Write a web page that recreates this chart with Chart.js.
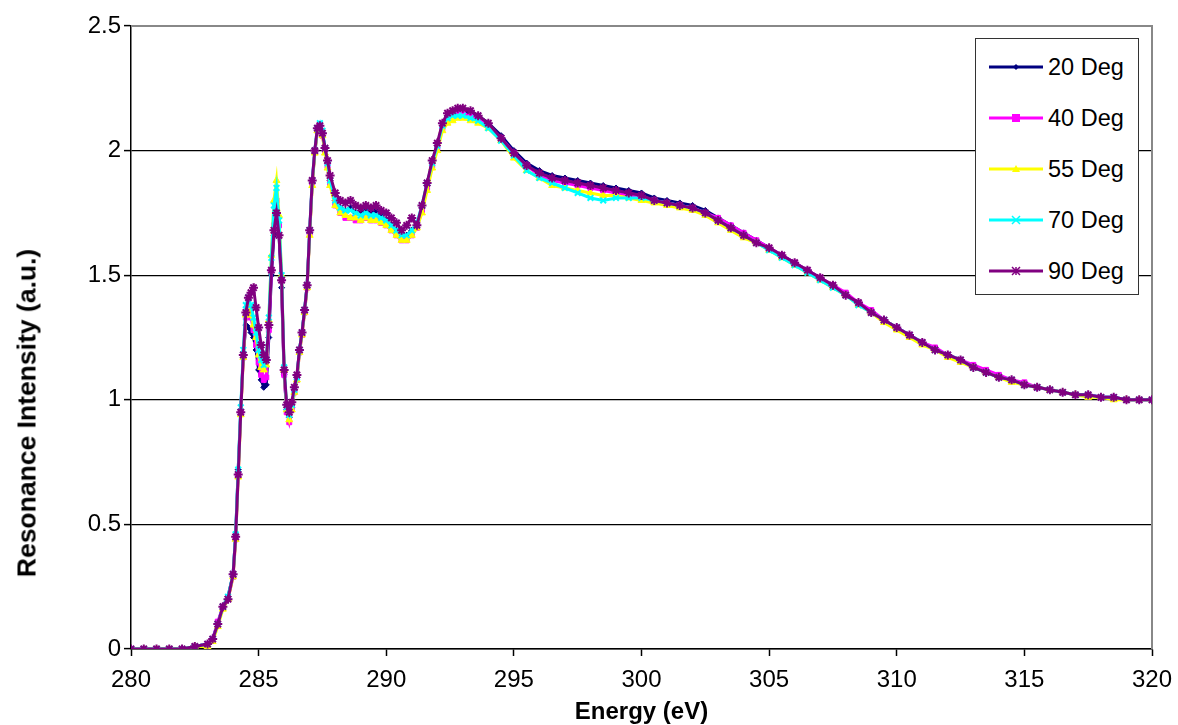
<!DOCTYPE html>
<html lang="en">
<head>
<meta charset="UTF-8">
<title>Resonance Intensity vs Energy</title>
<script src="https://cdn.jsdelivr.net/npm/chart.js"></script>
<style>
  html, body { margin: 0; padding: 0; background: #fff; }
  #wrap { position: relative; width: 1178px; height: 725px; }
  #legend {
    position: absolute; left: 975px; top: 38px; width: 164px; height: 257px;
    border: 1px solid #333; background: #fff; box-sizing: border-box;
    font-family: "Liberation Sans", Arial, sans-serif; font-size: 23.5px; color: #000;
  }
  .row { position: absolute; left: 13px; height: 30px; display: flex; align-items: center; }
  .row svg { margin-right: 5px; }
  #ytitle {
    position: absolute; left: 27px; top: 413px; white-space: nowrap;
    transform: translate(-50%, -50%) rotate(-90deg);
    font-family: "Liberation Sans", Arial, sans-serif; font-size: 26.5px; font-weight: bold; color: #000;
  }
</style>
</head>
<body>
<div id="wrap">
  <canvas id="chart" width="1178" height="725"></canvas>
  <div id="ytitle">Resonance Intensity (a.u.)</div>
  <div id="legend"></div>
</div>
<script>
// photon energy (eV), shared by all scans
const energy = [
  280.0, 280.5, 281.0, 281.5, 282.0, 282.5, 283.0,
  283.2, 283.4, 283.6, 283.8,
  284.0, 284.1, 284.2, 284.3, 284.4, 284.5, 284.6, 284.7, 284.8, 284.9,
  285.0, 285.1, 285.2, 285.3, 285.4, 285.5, 285.6, 285.7, 285.8, 285.9,
  286.0, 286.1, 286.2, 286.3, 286.4, 286.5, 286.6, 286.7, 286.8, 286.9,
  287.0, 287.1, 287.2, 287.3, 287.4, 287.5, 287.6, 287.7, 287.8,
  288.0, 288.2, 288.4, 288.6, 288.8, 289.0, 289.2, 289.4, 289.6, 289.8,
  290.0, 290.2, 290.4, 290.6, 290.8, 291.0, 291.2, 291.4, 291.6, 291.8,
  292.0, 292.2, 292.4, 292.6, 292.8, 293.0,
  293.3, 293.6,
  294.0, 294.5, 295.0, 295.5, 296.0, 296.5, 297.0, 297.5, 298.0, 298.5,
  299.0, 299.5, 300.0, 300.5, 301.0, 301.5, 302.0, 302.5, 303.0, 303.5,
  304.0, 304.5, 305.0, 305.5, 306.0, 306.5, 307.0, 307.5, 308.0, 308.5,
  309.0, 309.5, 310.0, 310.5, 311.0, 311.5, 312.0, 312.5, 313.0, 313.5,
  314.0, 314.5, 315.0, 315.5, 316.0, 316.5, 317.0, 317.5, 318.0, 318.5,
  319.0, 319.5, 320.0
];

const deg20 = [
  0.00, 0.00, 0.00, 0.00, 0.00, 0.01, 0.02,
  0.04, 0.10, 0.17, 0.21,
  0.30, 0.46, 0.72, 0.96, 1.18, 1.30, 1.29, 1.27, 1.25, 1.20,
  1.12, 1.08, 1.05, 1.06, 1.25, 1.50, 1.66, 1.74, 1.66, 1.45,
  1.10, 0.96, 0.93, 0.97, 1.04, 1.09, 1.20, 1.27, 1.36, 1.46,
  1.67, 1.87, 1.99, 2.08, 2.10, 2.07, 2.01, 1.95, 1.88,
  1.80, 1.77, 1.76, 1.77, 1.75, 1.75, 1.76, 1.75, 1.76, 1.74,
  1.72, 1.70, 1.68, 1.66, 1.66, 1.68, 1.70, 1.77, 1.86, 1.95,
  2.02, 2.10, 2.14, 2.15, 2.16, 2.16,
  2.15, 2.14,
  2.11, 2.06, 2.00, 1.95, 1.92, 1.90, 1.89, 1.88, 1.87, 1.86,
  1.85, 1.84, 1.83, 1.81, 1.80, 1.79, 1.78, 1.76, 1.73, 1.70,
  1.67, 1.64, 1.61, 1.58, 1.55, 1.52, 1.49, 1.46, 1.42, 1.39,
  1.35, 1.32, 1.29, 1.26, 1.23, 1.20, 1.18, 1.16, 1.13, 1.11,
  1.09, 1.08, 1.06, 1.05, 1.04, 1.03, 1.02, 1.02, 1.01, 1.01,
  1.00, 1.00, 1.00
];

const deg40 = [
  0.00, 0.00, 0.00, 0.00, 0.00, 0.01, 0.02,
  0.04, 0.11, 0.17, 0.20,
  0.29, 0.44, 0.70, 0.95, 1.17, 1.33, 1.36, 1.33, 1.28, 1.22,
  1.15, 1.10, 1.08, 1.09, 1.28, 1.52, 1.70, 1.80, 1.70, 1.48,
  1.10, 0.95, 0.91, 0.96, 1.03, 1.08, 1.19, 1.26, 1.35, 1.45,
  1.67, 1.87, 2.00, 2.08, 2.10, 2.06, 2.00, 1.94, 1.87,
  1.78, 1.75, 1.73, 1.73, 1.72, 1.72, 1.73, 1.72, 1.72, 1.71,
  1.70, 1.68, 1.66, 1.64, 1.64, 1.66, 1.69, 1.76, 1.85, 1.94,
  2.01, 2.09, 2.13, 2.14, 2.15, 2.15,
  2.14, 2.13,
  2.10, 2.05, 1.99, 1.94, 1.90, 1.88, 1.87, 1.86, 1.85, 1.84,
  1.83, 1.82, 1.81, 1.80, 1.79, 1.78, 1.77, 1.75, 1.73, 1.70,
  1.67, 1.64, 1.61, 1.58, 1.55, 1.52, 1.49, 1.46, 1.43, 1.39,
  1.36, 1.32, 1.29, 1.26, 1.23, 1.21, 1.18, 1.16, 1.14, 1.12,
  1.10, 1.08, 1.07, 1.05, 1.04, 1.03, 1.02, 1.02, 1.01, 1.01,
  1.00, 1.00, 1.00
];

const deg55 = [
  0.00, 0.00, 0.00, 0.00, 0.00, 0.01, 0.01,
  0.03, 0.09, 0.16, 0.20,
  0.29, 0.44, 0.69, 0.94, 1.17, 1.34, 1.37, 1.34, 1.30, 1.25,
  1.18, 1.13, 1.12, 1.14, 1.32, 1.58, 1.80, 1.88, 1.74, 1.50,
  1.12, 0.96, 0.92, 0.96, 1.03, 1.08, 1.19, 1.26, 1.35, 1.45,
  1.66, 1.86, 1.99, 2.08, 2.09, 2.06, 1.99, 1.93, 1.86,
  1.78, 1.75, 1.74, 1.73, 1.73, 1.72, 1.73, 1.72, 1.72, 1.71,
  1.70, 1.68, 1.66, 1.64, 1.64, 1.66, 1.69, 1.75, 1.84, 1.93,
  2.00, 2.08, 2.11, 2.12, 2.13, 2.13,
  2.12, 2.11,
  2.09, 2.04, 1.97, 1.92, 1.89, 1.86, 1.85, 1.84, 1.83, 1.82,
  1.82, 1.81, 1.80, 1.79, 1.78, 1.77, 1.76, 1.74, 1.71, 1.68,
  1.65, 1.63, 1.60, 1.57, 1.54, 1.51, 1.48, 1.45, 1.42, 1.38,
  1.35, 1.31, 1.28, 1.25, 1.22, 1.20, 1.17, 1.15, 1.13, 1.11,
  1.09, 1.07, 1.06, 1.05, 1.04, 1.03, 1.02, 1.01, 1.01, 1.00,
  1.00, 1.00, 1.00
];

const deg70 = [
  0.00, 0.00, 0.00, 0.00, 0.00, 0.01, 0.02,
  0.04, 0.10, 0.17, 0.21,
  0.30, 0.46, 0.72, 0.97, 1.20, 1.38, 1.41, 1.38, 1.33, 1.27,
  1.20, 1.16, 1.14, 1.16, 1.33, 1.57, 1.78, 1.85, 1.72, 1.50,
  1.13, 0.97, 0.94, 0.98, 1.04, 1.09, 1.20, 1.27, 1.36, 1.46,
  1.68, 1.88, 2.00, 2.09, 2.11, 2.08, 2.01, 1.95, 1.88,
  1.80, 1.77, 1.76, 1.76, 1.75, 1.74, 1.75, 1.74, 1.74, 1.73,
  1.72, 1.70, 1.68, 1.66, 1.66, 1.68, 1.71, 1.78, 1.87, 1.95,
  2.02, 2.10, 2.13, 2.14, 2.14, 2.14,
  2.13, 2.12,
  2.09, 2.04, 1.98, 1.92, 1.89, 1.87, 1.85, 1.83, 1.81, 1.80,
  1.81, 1.81, 1.81, 1.80, 1.79, 1.78, 1.77, 1.75, 1.72, 1.69,
  1.66, 1.63, 1.60, 1.57, 1.54, 1.51, 1.48, 1.45, 1.42, 1.38,
  1.35, 1.32, 1.29, 1.26, 1.23, 1.20, 1.18, 1.16, 1.13, 1.11,
  1.09, 1.08, 1.06, 1.05, 1.04, 1.03, 1.02, 1.02, 1.01, 1.01,
  1.00, 1.00, 1.00
];

const deg90 = [
  0.00, 0.00, 0.00, 0.00, 0.00, 0.01, 0.02,
  0.04, 0.10, 0.17, 0.20,
  0.30, 0.45, 0.70, 0.95, 1.18, 1.35, 1.41, 1.43, 1.45, 1.37,
  1.29, 1.22, 1.18, 1.16, 1.30, 1.52, 1.68, 1.75, 1.66, 1.48,
  1.12, 0.98, 0.95, 0.99, 1.05, 1.10, 1.20, 1.27, 1.36, 1.46,
  1.68, 1.88, 2.00, 2.09, 2.10, 2.07, 2.01, 1.96, 1.90,
  1.83, 1.80, 1.79, 1.80, 1.78, 1.77, 1.78, 1.77, 1.78, 1.76,
  1.75, 1.73, 1.71, 1.68, 1.70, 1.73, 1.70, 1.78, 1.87, 1.96,
  2.03, 2.11, 2.15, 2.16, 2.17, 2.17,
  2.16, 2.14,
  2.11, 2.05, 1.99, 1.94, 1.91, 1.89, 1.88, 1.87, 1.86, 1.85,
  1.84, 1.83, 1.82, 1.80, 1.79, 1.78, 1.77, 1.75, 1.72, 1.69,
  1.66, 1.63, 1.61, 1.58, 1.55, 1.52, 1.49, 1.46, 1.42, 1.39,
  1.35, 1.32, 1.29, 1.26, 1.23, 1.20, 1.18, 1.16, 1.13, 1.11,
  1.09, 1.08, 1.06, 1.05, 1.04, 1.03, 1.02, 1.02, 1.01, 1.01,
  1.00, 1.00, 1.00
];

const seriesNames = ['20 Deg', '40 Deg', '55 Deg', '70 Deg', '90 Deg'];
const seriesValues = [deg20, deg40, deg55, deg70, deg90];
const seriesColors = ['#000080', '#FF00FF', '#FFFF00', '#00FFFF', '#800080'];
const seriesMarkers = ['rectRot', 'rect', 'triangle', 'crossRot', 'star'];
const markerSizes = [3, 3.5, 4, 4, 4.5];

const FONT = '"Liberation Sans", Arial, sans-serif';

function toPoints(ys) {
  return ys.map((y, i) => ({ x: energy[i], y: y }));
}

const datasets = seriesNames.map((name, i) => ({
  label: name,
  data: toPoints(seriesValues[i]),
  borderColor: seriesColors[i],
  backgroundColor: seriesColors[i],
  borderWidth: 3,
  pointStyle: seriesMarkers[i],
  pointRadius: markerSizes[i],
  pointBorderWidth: (i >= 3) ? 2 : 1,
  pointBorderColor: seriesColors[i],
  pointBackgroundColor: seriesColors[i],
  tension: 0,
  order: seriesNames.length - i   // later series drawn on top, like Excel
}));

// gray plot-area frame on top and right
const plotFrame = {
  id: 'plotFrame',
  beforeDatasetsDraw(chart) {
    const a = chart.chartArea;
    const ctx = chart.ctx;
    ctx.save();
    ctx.strokeStyle = '#888';
    ctx.lineWidth = 2;
    ctx.beginPath();
    ctx.moveTo(a.left, a.top);
    ctx.lineTo(a.right, a.top);
    ctx.lineTo(a.right, a.bottom);
    ctx.stroke();
    ctx.restore();
  }
};

new Chart(document.getElementById('chart'), {
  type: 'line',
  data: { datasets: datasets },
  plugins: [plotFrame],
  options: {
    responsive: false,
    animation: false,
    layout: { padding: { top: 26, right: 26, left: 0, bottom: 0 } },
    plugins: { legend: { display: false }, tooltip: { enabled: false } },
    scales: {
      x: {
        type: 'linear',
        min: 280, max: 320,
        afterFit(scale) {
          scale.height = 76;
          scale.paddingLeft = 0;
          scale.paddingRight = 0;
        },
        ticks: { stepSize: 5, color: '#000', padding: 10, maxRotation: 0,
                 font: { family: FONT, size: 24 } },
        grid: { drawOnChartArea: false, drawTicks: true, tickLength: 7, tickColor: '#000', tickWidth: 1.5 },
        border: { display: true, color: '#000', width: 1.5 },
        title: { display: true, text: 'Energy (eV)', color: '#000',
                 font: { family: FONT, size: 24, weight: 'bold', lineHeight: 1.05 },
                 padding: { top: 0, bottom: 0 } }
      },
      y: {
        min: 0, max: 2.5,
        afterFit(scale) { scale.width = 131; },
        ticks: { stepSize: 0.5, color: '#000', padding: 3,
                 font: { family: FONT, size: 24 },
                 callback: (v) => String(v) },
        grid: {
          color: (c) => (c.tick && c.tick.value === 2.5) ? 'rgba(0,0,0,0)' : '#000',
          lineWidth: 1.2,
          tickLength: 7, tickColor: '#000', tickWidth: 1.5
        },
        border: { display: true, color: '#000', width: 1.5 }
      }
    }
  }
});

// legend box inside the plot, top-right
function markerSvg(style, color) {
  const c = 27, m = 7;
  if (style === 'rectRot') return `<polygon points="${c},${m-3} ${c+3},${m} ${c},${m+3} ${c-3},${m}" fill="${color}"/>`;
  if (style === 'rect') return `<rect x="${c-4}" y="${m-4}" width="8" height="8" fill="${color}"/>`;
  if (style === 'triangle') return `<polygon points="${c},${m-4} ${c+4},${m+3} ${c-4},${m+3}" fill="${color}"/>`;
  if (style === 'crossRot') return `<path d="M${c-4},${m-4}L${c+4},${m+4}M${c+4},${m-4}L${c-4},${m+4}" stroke="${color}" stroke-width="1.5"/>`;
  return `<path d="M${c-4},${m-4}L${c+4},${m+4}M${c+4},${m-4}L${c-4},${m+4}M${c},${m-4}L${c},${m+4}" stroke="${color}" stroke-width="1.5"/>`;
}

const legend = document.getElementById('legend');
seriesNames.forEach((name, i) => {
  const row = document.createElement('div');
  row.className = 'row';
  row.style.top = (13 + i * 51) + 'px';
  row.innerHTML = `<svg width="54" height="14" viewBox="0 0 54 14">
      <line x1="0" y1="7" x2="54" y2="7" stroke="${seriesColors[i]}" stroke-width="3"/>
      ${markerSvg(seriesMarkers[i], seriesColors[i])}
    </svg><span>${name}</span>`;
  legend.appendChild(row);
});
</script>
</body>
</html>
